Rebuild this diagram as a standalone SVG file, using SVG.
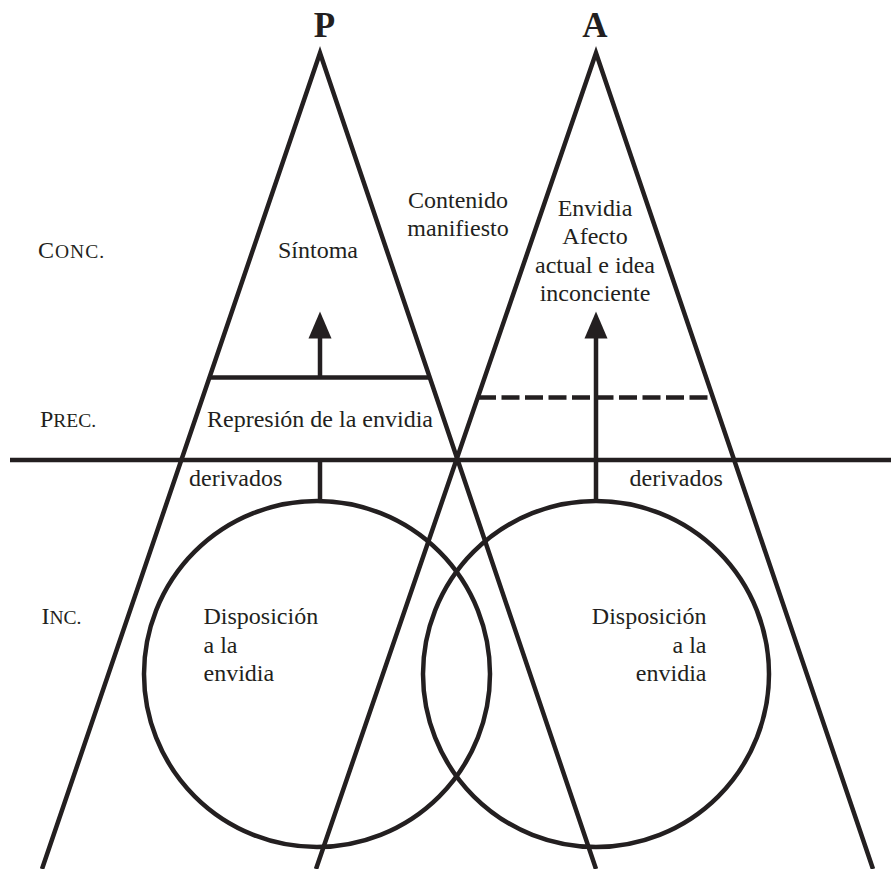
<svg xmlns="http://www.w3.org/2000/svg" width="891" height="869" viewBox="0 0 891 869">
<style>
.ln{fill:none;stroke:#231f20;stroke-width:4.5;stroke-linecap:butt;stroke-linejoin:miter;stroke-miterlimit:10}
.t{font-family:"Liberation Serif","Times New Roman",serif;font-size:24px;fill:#231f20}
.sc{font-size:19.5px}
.b{font-family:"Liberation Serif","Times New Roman",serif;font-size:35px;font-weight:bold;fill:#231f20}
.head{fill:#231f20;stroke:none}
</style>
<rect width="891" height="869" fill="#ffffff"/>
<g id="levels">
<text class="t" x="38" y="258" letter-spacing="1">C<tspan class="sc">ONC.</tspan></text>
<text class="t" x="40" y="427">P<tspan class="sc">REC.</tspan></text>
<text class="t" x="41.5" y="623.5">I<tspan class="sc">NC.</tspan></text>
</g>
<g id="boundary">
<line class="ln" x1="10" y1="460" x2="891" y2="460"/>
</g>
<g id="triangle-P">
<polyline class="ln" points="42,869 320,53 596,869"/>
<text class="b" x="324.5" y="37" text-anchor="middle">P</text>
<line class="ln" x1="210" y1="377.5" x2="430" y2="377.5"/>
<text class="t" x="318" y="258" text-anchor="middle">Síntoma</text>
<text class="t" x="320" y="427" text-anchor="middle">Represión de la envidia</text>
<text class="t" x="189" y="486">derivados</text>
</g>
<g id="triangle-A">
<polyline class="ln" points="316,869 596,53 873,869"/>
<text class="b" x="595" y="37" text-anchor="middle">A</text>
<line class="ln" x1="478" y1="397.5" x2="713" y2="397.5" stroke-dasharray="18 5.5"/>
<text class="t" x="595" text-anchor="middle"><tspan x="595" y="215.5">Envidia</tspan><tspan x="595" y="244">Afecto</tspan><tspan x="595" y="272.5">actual e idea</tspan><tspan x="595" y="301">inconciente</tspan></text>
<text class="t" x="629.5" y="486">derivados</text>
</g>
<g id="manifest">
<text class="t" text-anchor="middle"><tspan x="458" y="208">Contenido</tspan><tspan x="458" y="235.5">manifiesto</tspan></text>
</g>
<g id="circle-P">
<circle class="ln" cx="317" cy="674" r="173"/>
<text class="t"><tspan x="203.5" y="623.5">Disposición</tspan><tspan x="203.5" y="652.5">a la</tspan><tspan x="203.5" y="681">envidia</tspan></text>
</g>
<g id="circle-A">
<circle class="ln" cx="596" cy="674" r="173"/>
<text class="t" text-anchor="end"><tspan x="706.5" y="623.5">Disposición</tspan><tspan x="706.5" y="652.5">a la</tspan><tspan x="706.5" y="681">envidia</tspan></text>
</g>
<g id="connectors">
<line class="ln" x1="320" y1="460" x2="320" y2="501"/>
<line class="ln" x1="320" y1="377.5" x2="320" y2="336"/>
<polygon class="head" points="320,311.5 308.5,338.5 331.5,338.5"/>
<line class="ln" x1="596" y1="501" x2="596" y2="336"/>
<polygon class="head" points="596,311.5 584.5,338.5 607.5,338.5"/>
</g>
</svg>
